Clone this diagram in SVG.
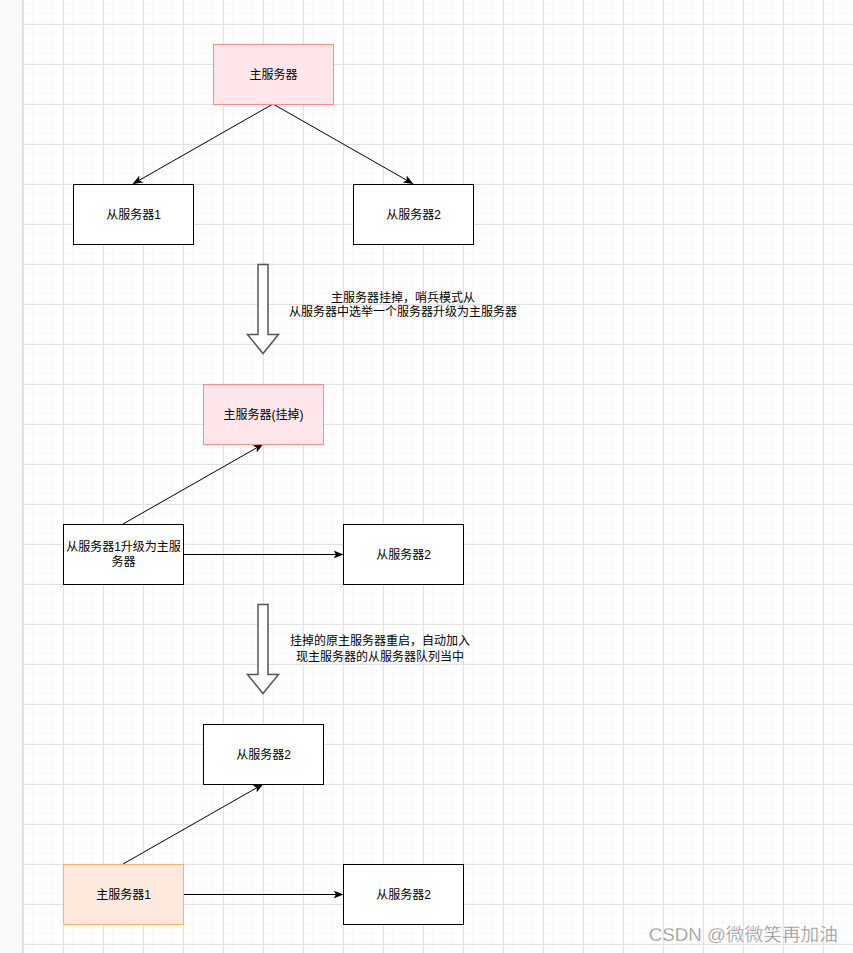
<svg xmlns="http://www.w3.org/2000/svg" width="853" height="953" viewBox="0 0 853 953">
<defs>
<pattern id="minor" x="23" y="24" width="10" height="10" patternUnits="userSpaceOnUse">
<path d="M10 0V10M0 10H10" fill="none" stroke="#f3f3f3" stroke-width="1"/>
</pattern>
<pattern id="major" x="23" y="24" width="40" height="40" patternUnits="userSpaceOnUse">
<path d="M0 0V40M0 0H40" fill="none" stroke="#e2e2e2" stroke-width="1" transform="translate(0.5 0.5)"/>
</pattern>
<marker id="arr" viewBox="0 0 10 10" refX="9" refY="5" markerWidth="10" markerHeight="10" markerUnits="userSpaceOnUse" orient="auto">
<path d="M0 1L10 5L0 9L2.5 5Z" fill="#000"/>
</marker>
<style>
.n{fill:#fff;stroke:#000;stroke-width:1}
.p{fill:#ffe6ea;stroke:#ff8a8a;stroke-width:1}
.o{fill:#ffe8dc;stroke:#ffb066;stroke-width:1}
.t{font-family:"Liberation Sans","Noto Sans CJK SC",sans-serif;font-size:12px;fill:#000;text-anchor:middle}
.c{stroke:#000;stroke-width:1;fill:none;marker-end:url(#arr)}
.b{fill:#fff;stroke:#555;stroke-width:1.5}
</style>
</defs>
<rect x="0" y="0" width="853" height="953" fill="#fff"/>
<rect x="23" y="0" width="830" height="953" fill="url(#minor)"/>
<rect x="23" y="0" width="830" height="953" fill="url(#major)"/>
<rect x="0" y="0" width="22" height="953" fill="#f8f9fb"/>
<line x1="22.5" y1="0" x2="22.5" y2="953" stroke="#dcdcdc"/>

<g id="connectors">
<line class="c" x1="273" y1="104" x2="133.5" y2="183.5"/>
<line class="c" x1="273" y1="104" x2="412.5" y2="183.5"/>
<line class="c" x1="123" y1="524" x2="262.5" y2="444.5"/>
<line class="c" x1="183" y1="554.5" x2="342.5" y2="554.5"/>
<line class="c" x1="123" y1="864" x2="262.5" y2="784.5"/>
<line class="c" x1="183" y1="894.5" x2="342.5" y2="894.5"/>
</g>

<g id="n1"><rect class="p" x="213.5" y="44.5" width="120" height="60"/><text class="t" x="273.5" y="78.5">主服务器</text></g>
<g id="n2"><rect class="n" x="73.5" y="184.5" width="120" height="60"/><text class="t" x="133.5" y="218.5">从服务器1</text></g>
<g id="n3"><rect class="n" x="353.5" y="184.5" width="120" height="60"/><text class="t" x="413.5" y="218.5">从服务器2</text></g>

<g id="blockarrow1"><path class="b" d="M258 264.5H268V334.5H278.5L263 353.5L247.5 334.5H258Z"/></g>
<g id="label1">
<text class="t" x="403" y="301.5">主服务器挂掉，哨兵模式从</text>
<text class="t" x="403" y="315.5">从服务器中选举一个服务器升级为主服务器</text>
</g>

<g id="n4"><rect class="p" x="203.5" y="384.5" width="120" height="60"/><text class="t" x="263.5" y="418.5">主服务器(挂掉)</text></g>
<g id="n5"><rect class="n" x="63.5" y="524.5" width="120" height="60"/><text class="t" x="123.5" y="551">从服务器1升级为主服</text><text class="t" x="123.5" y="566">务器</text></g>
<g id="n6"><rect class="n" x="343.5" y="524.5" width="120" height="60"/><text class="t" x="403.5" y="558.5">从服务器2</text></g>

<g id="blockarrow2"><path class="b" d="M258 604.5H268V674.5H278.5L263 693.5L247.5 674.5H258Z"/></g>
<g id="label2">
<text class="t" x="380" y="645">挂掉的原主服务器重启，自动加入</text>
<text class="t" x="380" y="661">现主服务器的从服务器队列当中</text>
</g>

<g id="n7"><rect class="n" x="203.5" y="724.5" width="120" height="60"/><text class="t" x="263.5" y="758.5">从服务器2</text></g>
<g id="n8"><rect class="o" x="63.5" y="864.5" width="120" height="60"/><text class="t" x="123.5" y="898.5">主服务器1</text></g>
<g id="n9"><rect class="n" x="343.5" y="864.5" width="120" height="60"/><text class="t" x="403.5" y="898.5">从服务器2</text></g>

<text x="838" y="941" font-family="Liberation Sans,'Noto Sans CJK SC',sans-serif" font-size="18.7" fill="#8f8f8f" stroke="#fff" stroke-width="0.3" text-anchor="end">CSDN @微微笑再加油</text>
</svg>
